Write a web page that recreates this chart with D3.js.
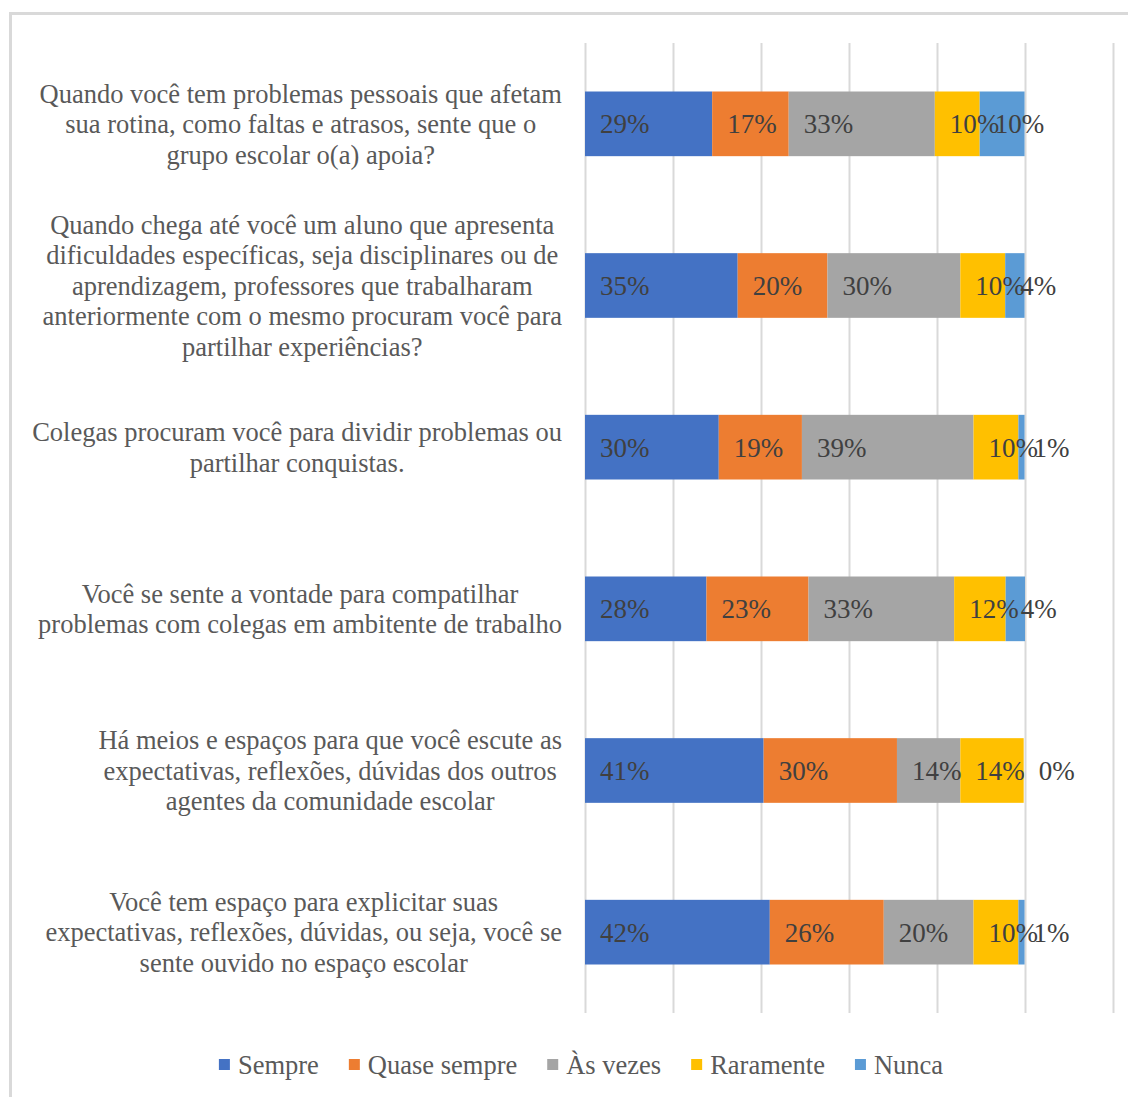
<!DOCTYPE html>
<html lang="pt">
<head>
<meta charset="UTF-8">
<title>Stacked bars</title>
<script src="https://d3js.org/d3.v7.min.js"></script>
<style>
    body { margin: 0; background: #fff; }
    svg text { font-family: "Liberation Serif", "Times New Roman", serif; }
</style>
</head>
<body>
<svg id="chart" width="1128" height="1097"></svg>
<script>
    // categories, each already broken into lines like in the original
    const categories = [
        ["Quando você tem problemas pessoais que afetam", "sua rotina, como faltas e atrasos, sente que o", "grupo escolar o(a) apoia?"],
        ["Quando chega até você um aluno que apresenta", "dificuldades específicas, seja disciplinares ou de", "aprendizagem, professores que trabalharam", "anteriormente com o mesmo procuram você para", "partilhar experiências?"],
        ["Colegas procuram você para dividir problemas ou", "partilhar conquistas."],
        ["Você se sente a vontade para compatilhar", "problemas com colegas em ambitente de trabalho"],
        ["Há meios e espaços para que você escute as", "expectativas, reflexões, dúvidas dos outros", "agentes da comunidade escolar"],
        ["Você tem espaço para explicitar suas", "expectativas, reflexões, dúvidas, ou seja, você se", "sente ouvido no espaço escolar"]
    ];
    const seriesNames = ["Sempre", "Quase sempre", "Às vezes", "Raramente", "Nunca"];
    const sempre      = [28.9, 34.7, 30.4, 27.6, 40.6, 42.0];
    const quaseSempre = [17.4, 20.4, 18.9, 23.2, 30.3, 25.9];
    const asVezes     = [33.2, 30.2, 39.0, 33.1, 14.4, 20.4];
    const raramente   = [10.2, 10.2, 10.2, 11.7, 14.4, 10.2];
    const nunca       = [10.2, 4.4, 1.4, 4.4, 0, 1.4];
    const gridTicks   = [0, 20, 40, 60, 80, 100, 120];
    const colors      = ["#4472C4", "#ED7D31", "#A5A5A5", "#FFC000", "#5B9BD5"];

    const svg = d3.select("#chart");

    // outer chart border
    svg.append("rect")
        .attr("x", 10.5).attr("y", 13.5)
        .attr("width", 1200).attr("height", 1200)
        .attr("fill", "none")
        .attr("stroke", "#d9d9d9")
        .attr("stroke-width", 3);

    const plot = { left: 585, right: 1113, top: 43, bottom: 1013 };

    const x = d3.scaleLinear().domain([0, 120]).range([plot.left, plot.right]);
    const y = d3.scaleBand()
        .domain(d3.range(categories.length))
        .range([plot.top, plot.bottom])
        .paddingInner(0.6)
        .paddingOuter(0.3);

    // vertical gridlines
    const grid = svg.append("g")
        .attr("transform", `translate(0,${plot.bottom})`)
        .call(d3.axisBottom(x).tickValues(gridTicks).tickSize(-(plot.bottom - plot.top)).tickFormat(""));
    grid.select(".domain").remove();
    grid.selectAll(".tick line").attr("stroke", "#d9d9d9").attr("stroke-width", 2);

    // stack the series
    const table = categories.map((c, i) => ({
        idx: i,
        "Sempre": sempre[i],
        "Quase sempre": quaseSempre[i],
        "Às vezes": asVezes[i],
        "Raramente": raramente[i],
        "Nunca": nunca[i]
    }));
    const stacked = d3.stack().keys(seriesNames)(table);

    const layers = svg.append("g").selectAll("g")
        .data(stacked)
        .enter().append("g")
        .attr("fill", (d, i) => colors[i]);

    layers.selectAll("rect")
        .data(d => d)
        .enter().append("rect")
        .attr("x", d => x(d[0]))
        .attr("y", d => y(d.data.idx))
        .attr("width", d => x(d[1]) - x(d[0]))
        .attr("height", y.bandwidth());

    // data labels
    const labels = svg.append("g");
    stacked.forEach(layer => {
        layer.forEach(d => {
            labels.append("text")
                .attr("x", x(d[0]) + 15)
                .attr("y", y(d.data.idx) + y.bandwidth() / 2)
                .attr("dy", "0.35em")
                .attr("font-size", 27)
                .attr("fill", "#404040")
                .text(Math.round(d[1] - d[0]) + "%");
        });
    });

    // category labels: each block right-aligned, lines centred within the block
    const catG = svg.append("g");
    const lineH = 30.6;
    const labelRight = 562;
    categories.forEach((lines, i) => {
        const cy = y(i) + y.bandwidth() / 2;
        const g = catG.append("g");
        const texts = lines.map((ln, j) => g.append("text")
            .attr("y", cy + (j - (lines.length - 1) / 2) * lineH)
            .attr("dy", "0.35em")
            .attr("font-size", 26.5)
            .attr("fill", "#595959")
            .attr("text-anchor", "middle")
            .text(ln));
        const maxW = d3.max(texts, t => t.node().getComputedTextLength());
        texts.forEach(t => t.attr("x", labelRight - maxW / 2));
    });

    // legend
    const legend = svg.append("g");
    let lx = 0;
    const legendY = 1065;
    seriesNames.forEach((name, i) => {
        const item = legend.append("g").attr("transform", `translate(${lx},0)`);
        item.append("rect")
            .attr("x", 0).attr("y", legendY - 6)
            .attr("width", 11).attr("height", 11)
            .attr("fill", colors[i]);
        const t = item.append("text")
            .attr("x", 19).attr("y", legendY)
            .attr("dy", "0.35em")
            .attr("font-size", 26.5)
            .attr("fill", "#595959")
            .text(name);
        lx += 19 + t.node().getComputedTextLength() + 30;
    });
    const legendW = lx - 30;
    legend.attr("transform", `translate(${581 - legendW / 2},0)`);
</script>
</body>
</html>
